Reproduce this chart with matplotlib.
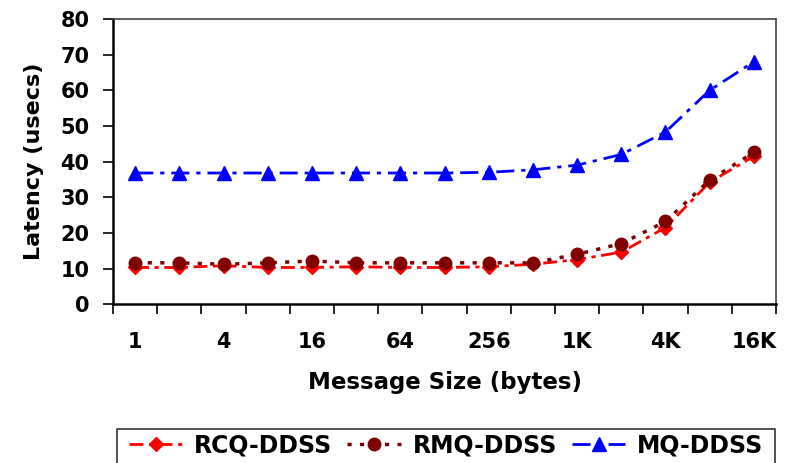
import numpy as np
from matplotlib import pyplot as plt
from matplotlib.patches import Rectangle

plt.rcParams['font.family'] = ['DejaVu Sans']
plt.rcParams['font.weight'] = 'bold'
plt.rcParams['lines.scale_dashes'] = False

sizes = ['1', '2', '4', '8', '16', '32', '64', '128', '256', '512',
         '1K', '2K', '4K', '8K', '16K']
rcq = [10.3, 10.3, 10.8, 10.3, 10.3, 10.5, 10.3, 10.3, 10.5, 11.2,
       12.5, 14.6, 21.5, 34.2, 41.5]
rmq = [11.6, 11.6, 11.2, 11.6, 12.1, 11.6, 11.6, 11.6, 11.6, 11.6,
       14.0, 17.0, 23.2, 34.8, 42.6]
mq = [36.8, 36.8, 36.8, 36.8, 36.8, 36.8, 36.8, 36.8, 37.0, 37.7,
      39.0, 42.0, 48.3, 60.0, 68.0]

x = np.arange(len(sizes))

fig = plt.figure(figsize=(7.91, 4.63), dpi=100)
ax = fig.add_axes([0.143, 0.343, 0.838, 0.616])

ax.plot(x, rcq, color='#ff0000', lw=2, linestyle=(0, (10, 4, 3, 4)),
        marker='D', markersize=7, label='RCQ-DDSS')
ax.plot(x, rmq, color='#800000', lw=2.5, linestyle=(0, (3, 6)),
        marker='o', markersize=9, label='RMQ-DDSS')
ax.plot(x, mq, color='#0000ff', lw=2, linestyle=(0, (13, 5, 3, 5)),
        marker='^', markersize=10, label='MQ-DDSS')

ax.set_xlim(-0.5, len(sizes) - 0.5)
ax.set_ylim(0, 80)
ax.set_yticks(np.arange(0, 81, 10))
ax.set_xticks(x[::2])
ax.set_xticklabels(sizes[::2])
ax.set_xticks(np.arange(-0.5, len(sizes), 1), minor=True)
ax.tick_params(axis='x', which='major', length=0, pad=20, labelsize=15)
ax.tick_params(axis='x', which='minor', length=7, width=1.2, direction='out')
ax.tick_params(axis='y', length=7, width=1.2, direction='out', labelsize=15,
               pad=10)

for s in ['left', 'bottom']:
    ax.spines[s].set_linewidth(1.8)
    ax.spines[s].set_color('black')
for s in ['top', 'right']:
    ax.spines[s].set_linewidth(1.2)
    ax.spines[s].set_color('#444444')

ax.set_xlabel('Message Size (bytes)', fontsize=16.5, fontweight='bold', labelpad=14)
ax.set_ylabel('Latency (usecs)', fontsize=16, fontweight='bold', labelpad=12)

# legend box runs off the bottom edge of the figure
fig.legend(loc='upper center', bbox_to_anchor=(0.564, 0.074), ncol=3,
           fontsize=17, frameon=False, handlelength=2.25,
           columnspacing=0.65, handletextpad=0.5, borderpad=0.2,
           borderaxespad=0)
fig.patches.append(Rectangle((0.148, -0.05), 0.832, 0.1234,
                             transform=fig.transFigure, fill=False,
                             edgecolor='#333333', linewidth=1.2))

plt.savefig('out.png', dpi=100)
